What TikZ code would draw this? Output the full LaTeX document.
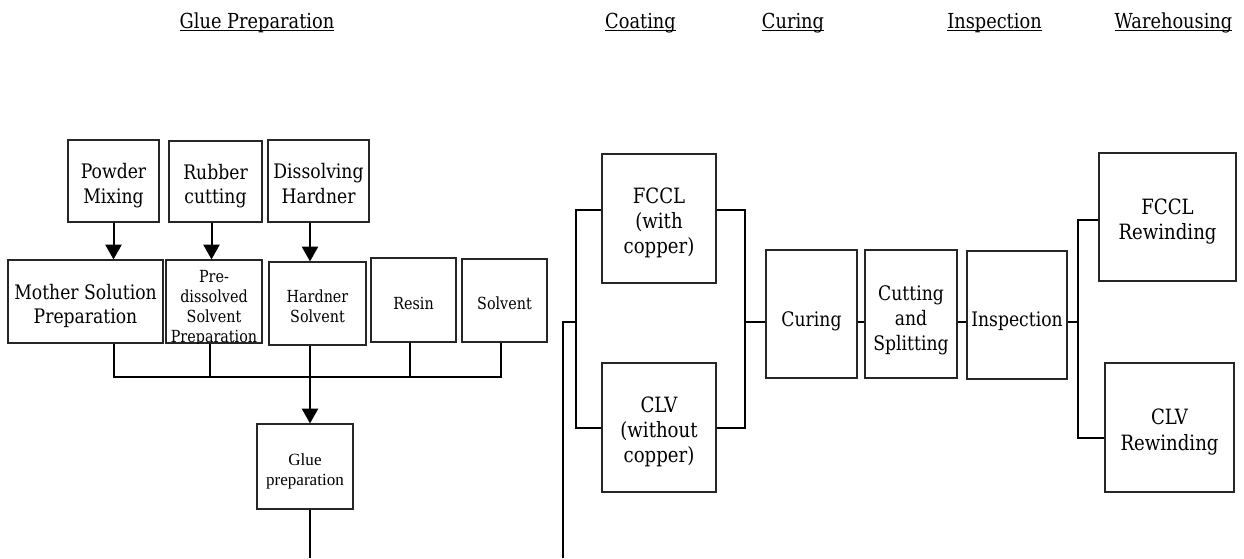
\documentclass[tikz,border=0pt]{standalone}
\usepackage{fontspec}
\setmainfont{DejaVu Serif}[FakeStretch=0.86]
\newfontfamily\timesfont{Liberation Serif}
\usetikzlibrary{arrows.meta}

% underlined heading text
\newcommand{\headul}[1]{\setbox0\hbox{#1}\rlap{\rule[-2.6pt]{\wd0}{1.1pt}}\box0}
% box text, set a little below the middle of its box
\newcommand{\boxlabel}[2][3.75pt]{\raisebox{-#1}[\height][\depth]{\begin{tabular}{@{}c@{}}#2\end{tabular}}}

\tikzset{
  procbox/.style={draw=black!85, line width=0.9pt, inner sep=0pt,
    font=\fontsize{15}{18.5}\selectfont},
  boxsize/.style 2 args={minimum width=#1*0.75pt, minimum height=#2*0.75pt},
  bigtext/.style={font=\fontsize{15.8}{18.8}\selectfont},
  smalltext/.style={font=\fontsize{12.5}{15}\selectfont},
  timestext/.style={font=\timesfont\fontsize{12.8}{15}\selectfont},
  link/.style={line width=1.5pt},
  feed/.style={link, -{Triangle[length=11pt,width=12pt]}},
  heading/.style={anchor=base, inner sep=0pt, font=\fontsize{15.5}{18}\selectfont},
}

\begin{document}
\begin{tikzpicture}[x=0.75pt, y=-0.75pt]
    \useasboundingbox (0,0) rectangle (1244,558);

    % headings
    \node[heading] (hglue)  at (257,28)    {\headul{Glue Preparation}};
    \node[heading] (hcoat)  at (640.5,28)  {\headul{Coating}};
    \node[heading] (hcure)  at (793,28)    {\headul{Curing}};
    \node[heading] (hinsp)  at (994.5,28)  {\headul{Inspection}};
    \node[heading] (hware)  at (1173.5,28) {\headul{Warehousing}};

    % glue preparation
    \node[procbox, boxsize={91}{82}]  (powder)   at (113.5,181)   {\boxlabel{Powder\\Mixing}};
    \node[procbox, boxsize={93}{81}]  (rubber)   at (215.5,181.5) {\boxlabel{Rubber\\cutting}};
    \node[procbox, boxsize={101}{82}] (dissolve) at (318.5,181)   {\boxlabel{Dissolving\\Hardner}};
    \node[procbox, boxsize={155}{83}] (mother)   at (85.5,301.5)  {\boxlabel{Mother Solution\\Preparation}};
    \node[procbox, boxsize={96}{83}]  (pre)      at (214,301.5)   {};
    \begin{scope}
        \clip (pre.south west) rectangle (pre.north east);
        \node[smalltext, align=center, inner sep=0pt, anchor=north] (pretext)
            at ([yshift=-8.25pt]pre.north) {Pre-\\dissolved\\Solvent\\Preparation};
    \end{scope}
    \node[procbox, smalltext, boxsize={97}{83}] (hardsolv) at (317.5,303.5) {\boxlabel{Hardner\\Solvent}};
    \node[procbox, smalltext, boxsize={85}{84}] (resin)    at (413.5,300)   {\boxlabel{Resin}};
    \node[procbox, smalltext, boxsize={85}{83}] (solvent)  at (504.5,300.5) {\boxlabel{Solvent}};
    \node[procbox, timestext, boxsize={96}{85}] (glue)     at (305,466.5)   {\boxlabel{Glue\\preparation}};

    % coating, curing, inspection, warehousing
    \node[procbox, bigtext, boxsize={114}{129}] (fccl)     at (659,218.5)    {\boxlabel{FCCL\\(with\\copper)}};
    \node[procbox, bigtext, boxsize={114}{129}] (clv)      at (659,427.5)    {\boxlabel{CLV\\(without\\copper)}};
    \node[procbox, boxsize={91}{128}]           (curing)   at (811.5,314)    {\boxlabel[5.5pt]{Curing}};
    \node[procbox, boxsize={92}{128}]           (cutsplit) at (911,314)      {\boxlabel[5pt]{Cutting\\and\\Splitting}};
    \node[procbox, boxsize={100}{128}]          (inspect)  at (1017,315)     {\boxlabel[5pt]{Inspection}};
    \node[procbox, bigtext, boxsize={137}{128}] (fcclrew)  at (1167.5,217)   {\boxlabel{FCCL\\Rewinding}};
    \node[procbox, bigtext, boxsize={129}{129}] (clvrew)   at (1169.5,427.5) {\boxlabel{CLV\\Rewinding}};

    \coordinate (bus)      at (310,377);
    \coordinate (glueout)  at (310,558);
    \coordinate (coatin)   at (563,558);
    \coordinate (coatfork) at (576,322);
    \coordinate (curefork) at (745,322);
    \coordinate (inspfork) at (1078,322);

    % connectors
    \draw[feed] (powder.south) -- (powder.south |- mother.north);
    \draw[feed] ([xshift=-3pt]rubber.south) -- ([xshift=-3pt]rubber.south |- pre.north);
    \draw[feed] (dissolve.south -| bus) -- (hardsolv.north -| bus);
    \draw[link] (mother.south -| powder.south) |- ([xshift=-3pt]solvent.south |- bus) -- ([xshift=-3pt]solvent.south);
    \draw[link] ([xshift=-3pt]pre.south) -- ([xshift=-3pt]pre.south |- bus);
    \draw[link] ([xshift=-3pt]resin.south) -- ([xshift=-3pt]resin.south |- bus);
    \draw[feed] (hardsolv.south -| bus) -- (glue.north -| bus);
    \draw[link] (glue.south -| bus) -- (glueout);

    \draw[link] (coatin) |- (coatfork);
    \draw[link] ([yshift=6.4pt]fccl.west) -| (coatfork) |- (clv.west);
    \draw[link] ([yshift=6.4pt]fccl.east) -| (curefork) |- (clv.east);
    \draw[link] (curefork) -- (curing.west |- curefork);
    \draw[link] (curing.east |- curefork) -- (cutsplit.west |- curefork);
    \draw[link] (cutsplit.east |- curefork) -- (inspect.west |- curefork);
    \draw[link] (inspect.east |- inspfork) -- (inspfork);
    \draw[link] ([yshift=-2.25pt]fcclrew.west) -| (inspfork) |- ([yshift=-7.9pt]clvrew.west);
\end{tikzpicture}
\end{document}
